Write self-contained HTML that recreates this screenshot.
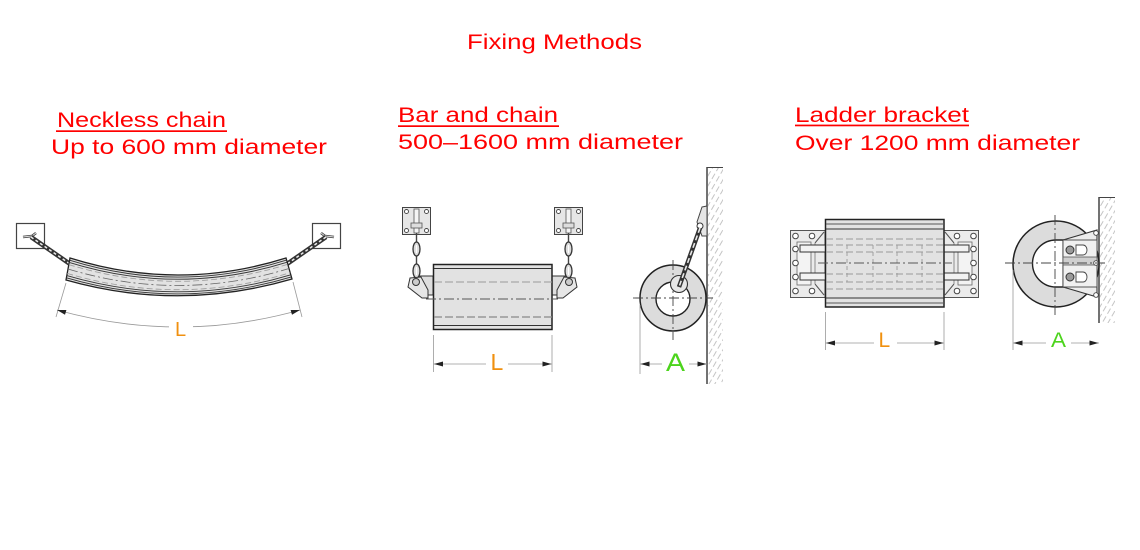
<!DOCTYPE html>
<html><head><meta charset="utf-8"><style>
html,body{margin:0;padding:0;background:#fff;}
svg{display:block;}
text{font-family:"Liberation Sans",sans-serif;}
</style></head><body>
<svg width="1140" height="550" viewBox="0 0 1140 550" xmlns="http://www.w3.org/2000/svg">
<defs>
<pattern id="hatch" width="5" height="9" patternUnits="userSpaceOnUse" patternTransform="rotate(30)">
<line x1="1" y1="0" x2="1" y2="6" stroke="#b5b5b5" stroke-width="0.8"/>
</pattern>
</defs>
<rect width="1140" height="550" fill="#fff"/>

<!-- ===== Titles ===== -->
<g fill="#ff0000" font-size="21">
<text x="467" y="49" textLength="175" lengthAdjust="spacingAndGlyphs">Fixing Methods</text>
<text x="57" y="127" textLength="169" lengthAdjust="spacingAndGlyphs">Neckless chain</text>
<text x="51" y="154" textLength="276" lengthAdjust="spacingAndGlyphs">Up to 600 mm diameter</text>
<text x="398" y="122" textLength="160" lengthAdjust="spacingAndGlyphs">Bar and chain</text>
<text x="398" y="149" textLength="285" lengthAdjust="spacingAndGlyphs">500–1600 mm diameter</text>
<text x="795" y="122" textLength="174" lengthAdjust="spacingAndGlyphs">Ladder bracket</text>
<text x="795" y="150" textLength="285" lengthAdjust="spacingAndGlyphs">Over 1200 mm diameter</text>
<rect x="56" y="130.3" width="171" height="1.7"/>
<rect x="398" y="125.3" width="161" height="1.7"/>
<rect x="795" y="124.6" width="174" height="1.7"/>
</g>

<!-- ===== Neckless chain ===== -->
<g>
<rect x="16.5" y="223.5" width="28" height="25" fill="#fff" stroke="#444" stroke-width="1.2"/>
<rect x="312.5" y="223.5" width="28" height="25" fill="#fff" stroke="#444" stroke-width="1.2"/>
<g>
<path d="M23,237 L32,236 L36,233" fill="none" stroke="#444" stroke-width="2.6"/>
<path d="M23,237 L32,236 L36,233" fill="none" stroke="#e0e0e0" stroke-width="0.9"/>
<line x1="31" y1="237" x2="70" y2="264" stroke="#333" stroke-width="4.5"/>
<line x1="31" y1="237" x2="70" y2="264" stroke="#eaeaea" stroke-width="1.5" stroke-dasharray="3 2.5"/>
</g>
<g transform="translate(357,0) scale(-1,1)">
<path d="M23,237 L32,236 L36,233" fill="none" stroke="#444" stroke-width="2.6"/>
<path d="M23,237 L32,236 L36,233" fill="none" stroke="#e0e0e0" stroke-width="0.9"/>
<line x1="31" y1="237" x2="70" y2="264" stroke="#333" stroke-width="4.5"/>
<line x1="31" y1="237" x2="70" y2="264" stroke="#eaeaea" stroke-width="1.5" stroke-dasharray="3 2.5"/>
</g>
<path d="M70,258 Q178,292 286,258 L292,279 Q179,312 66,280 Z" fill="#e2e2e2" stroke="#222" stroke-width="1.3"/>
<g fill="none">
<path d="M69.6,260.2 Q178.1,294.05 286.6,260.1" stroke="#333" stroke-width="0.9"/>
<path d="M69.2,262.4 Q178.2,296.1 287.2,262.2" stroke="#333" stroke-width="0.9"/>
<path d="M68.8,264.6 Q178.3,298.15 287.8,264.3" stroke="#999" stroke-width="0.8" stroke-dasharray="6 3"/>
<path d="M68,269 Q178.5,302.25 289,268.5" stroke="#666" stroke-width="0.8" stroke-dasharray="10 3 2 3"/>
<path d="M67.2,273.4 Q178.7,306.35 290.2,272.7" stroke="#999" stroke-width="0.8" stroke-dasharray="6 3"/>
<path d="M66.8,275.6 Q178.8,308.4 290.8,274.8" stroke="#333" stroke-width="0.9"/>
<path d="M66.4,277.8 Q178.9,310.45 291.4,276.9" stroke="#333" stroke-width="0.9"/>
</g>
<!-- dimension -->
<line x1="66" y1="283" x2="56" y2="317" stroke="#999" stroke-width="0.8"/>
<line x1="293" y1="282" x2="302" y2="317" stroke="#999" stroke-width="0.8"/>
<path d="M57,310 Q179,344 300,310" fill="none" stroke="#999" stroke-width="0.8"/>
<polygon points="57,310 65,314.8 66.4,310" fill="#222"/>
<polygon points="300,310 292,314.8 290.6,310" fill="#222"/>
<rect x="169" y="318" width="24" height="20" fill="#fff"/>
<text x="175" y="336" font-size="20" fill="#f0900f">L</text>
</g>

<!-- ===== Bar and chain: front ===== -->
<g>
<g id="bcleft">
<rect x="402.5" y="207.5" width="28" height="27" fill="#e6e6e6" stroke="#444" stroke-width="1"/>
<circle cx="406.5" cy="211.5" r="2" fill="#fff" stroke="#444" stroke-width="0.9"/>
<circle cx="426.5" cy="211.5" r="2" fill="#fff" stroke="#444" stroke-width="0.9"/>
<circle cx="406.5" cy="230.5" r="2" fill="#fff" stroke="#444" stroke-width="0.9"/>
<circle cx="426.5" cy="230.5" r="2" fill="#fff" stroke="#444" stroke-width="0.9"/>
<rect x="414" y="209" width="5" height="24" fill="#f4f4f4" stroke="#555" stroke-width="0.8"/>
<rect x="411" y="223" width="11" height="5" fill="#ddd" stroke="#555" stroke-width="0.8"/>
<line x1="416.5" y1="233" x2="416.5" y2="280" stroke="#444" stroke-width="1.4"/>
<ellipse cx="416.5" cy="249" rx="3.5" ry="7" fill="#ddd" stroke="#333" stroke-width="1.3"/>
<ellipse cx="416.5" cy="271" rx="3.5" ry="7" fill="#ddd" stroke="#333" stroke-width="1.3"/>
<line x1="416.5" y1="245" x2="416.5" y2="253" stroke="#fff" stroke-width="1.2"/>
<line x1="416.5" y1="267" x2="416.5" y2="275" stroke="#fff" stroke-width="1.2"/>
<rect x="420" y="276" width="13" height="19" fill="#dedede" stroke="#333" stroke-width="1"/>
<polygon points="410,278 421,277 428,290 428,298 422,298 408,287" fill="#e6e6e6" stroke="#333" stroke-width="1"/>
<circle cx="416" cy="282" r="3.5" fill="#ccc" stroke="#333" stroke-width="1"/>
</g>
<use href="#bcleft" transform="translate(985,0) scale(-1,1)"/>
<rect x="433.5" y="264.5" width="118.5" height="65" fill="#e2e2e2" stroke="#222" stroke-width="1.5"/>
<line x1="434" y1="268.5" x2="552" y2="268.5" stroke="#333" stroke-width="1"/>
<line x1="434" y1="282" x2="552" y2="282" stroke="#999" stroke-width="1" stroke-dasharray="8 3"/>
<line x1="426" y1="299" x2="558" y2="299" stroke="#555" stroke-width="0.9" stroke-dasharray="10 3 2 3"/>
<line x1="434" y1="317" x2="552" y2="317" stroke="#888" stroke-width="1.2" stroke-dasharray="8 3"/>
<line x1="434" y1="325.5" x2="552" y2="325.5" stroke="#333" stroke-width="1"/>
<!-- dimension L -->
<line x1="433.5" y1="335" x2="433.5" y2="372" stroke="#999" stroke-width="0.8"/>
<line x1="552" y1="335" x2="552" y2="372" stroke="#999" stroke-width="0.8"/>
<line x1="433.5" y1="364" x2="486" y2="364" stroke="#999" stroke-width="0.8"/>
<line x1="508" y1="364" x2="552" y2="364" stroke="#999" stroke-width="0.8"/>
<polygon points="434,364 443,361.5 443,366.5" fill="#222"/>
<polygon points="551.5,364 542.5,361.5 542.5,366.5" fill="#222"/>
<text x="490.5" y="370" font-size="23" fill="#f0900f">L</text>
</g>

<!-- ===== Bar and chain: side ===== -->
<g>
<rect x="708" y="167" width="15" height="217" fill="url(#hatch)"/>
<line x1="707" y1="167" x2="707" y2="384" stroke="#444" stroke-width="1.5"/>
<line x1="707" y1="167.5" x2="723" y2="167.5" stroke="#444" stroke-width="1"/>
<circle cx="673" cy="298" r="33" fill="#dcdcdc" stroke="#222" stroke-width="1.5"/>
<circle cx="673" cy="299" r="17" fill="#fff" stroke="#222" stroke-width="1.4"/>
<line x1="633" y1="298" x2="713" y2="298" stroke="#444" stroke-width="0.9" stroke-dasharray="10 3 2 3"/>
<line x1="673" y1="260" x2="673" y2="340" stroke="#444" stroke-width="0.9" stroke-dasharray="10 3 2 3"/>
<circle cx="679" cy="284" r="8.5" fill="#e6e6e6" stroke="#333" stroke-width="1.1"/>
<polygon points="702,207 707,206 707,236 702,236 697,222" fill="#e6e6e6" stroke="#444" stroke-width="1"/>
<circle cx="700" cy="226" r="3" fill="#fff" stroke="#333" stroke-width="1"/>
<line x1="700" y1="228" x2="679" y2="287" stroke="#333" stroke-width="4.5"/>
<line x1="700" y1="228" x2="679" y2="287" stroke="#eaeaea" stroke-width="1.6" stroke-dasharray="5 3"/>
<!-- dimension A -->
<line x1="640" y1="305" x2="640" y2="374" stroke="#999" stroke-width="0.8"/>
<line x1="640" y1="364" x2="662" y2="364" stroke="#999" stroke-width="0.8"/>
<line x1="689" y1="364" x2="707" y2="364" stroke="#999" stroke-width="0.8"/>
<polygon points="640.5,364 649.5,361.5 649.5,366.5" fill="#222"/>
<polygon points="706.5,364 697.5,361.5 697.5,366.5" fill="#222"/>
<text x="666" y="371" font-size="25" fill="#4cd41c" textLength="19" lengthAdjust="spacingAndGlyphs">A</text>
</g>

<!-- ===== Ladder bracket: front ===== -->
<g>
<g id="lbleft">
<rect x="790.5" y="230.5" width="34.5" height="67" fill="#ebebeb" stroke="#555" stroke-width="1"/>
<rect x="797" y="242" width="14" height="43" fill="#f3f3f3" stroke="#666" stroke-width="0.8"/>
<g fill="#fff" stroke="#444" stroke-width="1">
<circle cx="795.5" cy="236" r="2.8"/><circle cx="795.5" cy="249" r="2.8"/>
<circle cx="795.5" cy="263" r="2.8"/><circle cx="795.5" cy="277" r="2.8"/>
<circle cx="795.5" cy="291" r="2.8"/><circle cx="812" cy="236" r="2.8"/>
<circle cx="812" cy="291" r="2.8"/>
</g>
<line x1="815" y1="243" x2="824" y2="232" stroke="#555" stroke-width="1"/>
<line x1="815" y1="284" x2="824" y2="295" stroke="#555" stroke-width="1"/>
<line x1="815" y1="243" x2="815" y2="284" stroke="#777" stroke-width="0.8"/>
<rect x="800" y="245" width="27" height="7" fill="#f2f2f2" stroke="#333" stroke-width="1"/>
<rect x="800" y="273" width="27" height="7" fill="#f2f2f2" stroke="#333" stroke-width="1"/>
</g>
<use href="#lbleft" transform="translate(1769,0) scale(-1,1)"/>
<rect x="825.5" y="219.5" width="118.5" height="87.5" fill="#e2e2e2" stroke="#222" stroke-width="1.5"/>
<line x1="826" y1="224" x2="944" y2="224" stroke="#555" stroke-width="0.9"/>
<line x1="826" y1="229" x2="944" y2="229" stroke="#333" stroke-width="1.1"/>
<line x1="826" y1="298" x2="944" y2="298" stroke="#333" stroke-width="1.1"/>
<line x1="826" y1="303" x2="944" y2="303" stroke="#555" stroke-width="0.9"/>
<g stroke="#9a9a9a" stroke-width="0.9" stroke-dasharray="7 3">
<line x1="826" y1="239" x2="944" y2="239"/>
<line x1="826" y1="245" x2="944" y2="245"/>
<line x1="826" y1="252" x2="944" y2="252"/>
<line x1="826" y1="274" x2="944" y2="274"/>
<line x1="826" y1="282" x2="944" y2="282"/>
<line x1="826" y1="289" x2="944" y2="289"/>
</g>
<g stroke="#9a9a9a" stroke-width="0.9" stroke-dasharray="4 3">
<line x1="847" y1="245" x2="847" y2="282"/>
<line x1="873" y1="245" x2="873" y2="282"/>
<line x1="897" y1="245" x2="897" y2="282"/>
<line x1="922" y1="245" x2="922" y2="282"/>
</g>
<line x1="818" y1="263" x2="952" y2="263" stroke="#555" stroke-width="0.9" stroke-dasharray="10 3 2 3"/>
<!-- dimension L -->
<line x1="825.5" y1="312" x2="825.5" y2="350" stroke="#999" stroke-width="0.8"/>
<line x1="944" y1="312" x2="944" y2="350" stroke="#999" stroke-width="0.8"/>
<line x1="825.5" y1="343" x2="874" y2="343" stroke="#999" stroke-width="0.8"/>
<line x1="897" y1="343" x2="944" y2="343" stroke="#999" stroke-width="0.8"/>
<polygon points="826,343 835,340.5 835,345.5" fill="#222"/>
<polygon points="943.5,343 934.5,340.5 934.5,345.5" fill="#222"/>
<text x="878.5" y="347" font-size="21" fill="#f0900f">L</text>
</g>

<!-- ===== Ladder bracket: side ===== -->
<g>
<rect x="1100" y="197" width="15" height="126" fill="url(#hatch)"/>
<line x1="1099" y1="197" x2="1099" y2="323" stroke="#444" stroke-width="1.5"/>
<line x1="1099" y1="197.5" x2="1115" y2="197.5" stroke="#444" stroke-width="1"/>
<circle cx="1056" cy="264" r="43" fill="#dcdcdc" stroke="#222" stroke-width="1.5"/>
<path d="M1064,240 L1056,240 A23.5,23.5 0 0 0 1056,287 L1064,287 Z" fill="#fff" stroke="#222" stroke-width="1.4"/>
<polygon points="1063,240 1097,230 1097,297 1063,287" fill="#ececec" stroke="#333" stroke-width="1.1"/>
<rect x="1063" y="240" width="34" height="47" fill="#f0f0f0" stroke="#444" stroke-width="0.9"/>
<rect x="1063" y="257" width="34" height="8" fill="#cfcfcf" stroke="#555" stroke-width="0.8"/>
<circle cx="1070" cy="250" r="4" fill="#9a9a9a" stroke="#333" stroke-width="1"/>
<circle cx="1070" cy="277" r="4" fill="#9a9a9a" stroke="#333" stroke-width="1"/>
<path d="M1076,245 h7 a4,5 0 0 1 0,10 h-7 z" fill="#fff" stroke="#444" stroke-width="0.9"/>
<path d="M1076,272 h7 a4,5 0 0 1 0,10 h-7 z" fill="#fff" stroke="#444" stroke-width="0.9"/>
<g fill="#fff" stroke="#444" stroke-width="0.9">
<circle cx="1096" cy="233" r="2.3"/><circle cx="1096" cy="263" r="2.3"/><circle cx="1096" cy="295" r="2.3"/>
</g>
<line x1="1005" y1="263" x2="1107" y2="263" stroke="#444" stroke-width="0.9" stroke-dasharray="10 3 2 3"/>
<line x1="1055" y1="215" x2="1055" y2="315" stroke="#444" stroke-width="0.9" stroke-dasharray="10 3 2 3"/>
<!-- dimension A -->
<line x1="1013" y1="270" x2="1013" y2="350" stroke="#999" stroke-width="0.8"/>
<line x1="1013" y1="343" x2="1046" y2="343" stroke="#999" stroke-width="0.8"/>
<line x1="1071" y1="343" x2="1099" y2="343" stroke="#999" stroke-width="0.8"/>
<polygon points="1013.5,343 1022.5,340.5 1022.5,345.5" fill="#222"/>
<polygon points="1098.5,343 1089.5,340.5 1089.5,345.5" fill="#222"/>
<text x="1051" y="347" font-size="21" fill="#4cd41c" textLength="15" lengthAdjust="spacingAndGlyphs">A</text>
</g>
</svg>
</body></html>
